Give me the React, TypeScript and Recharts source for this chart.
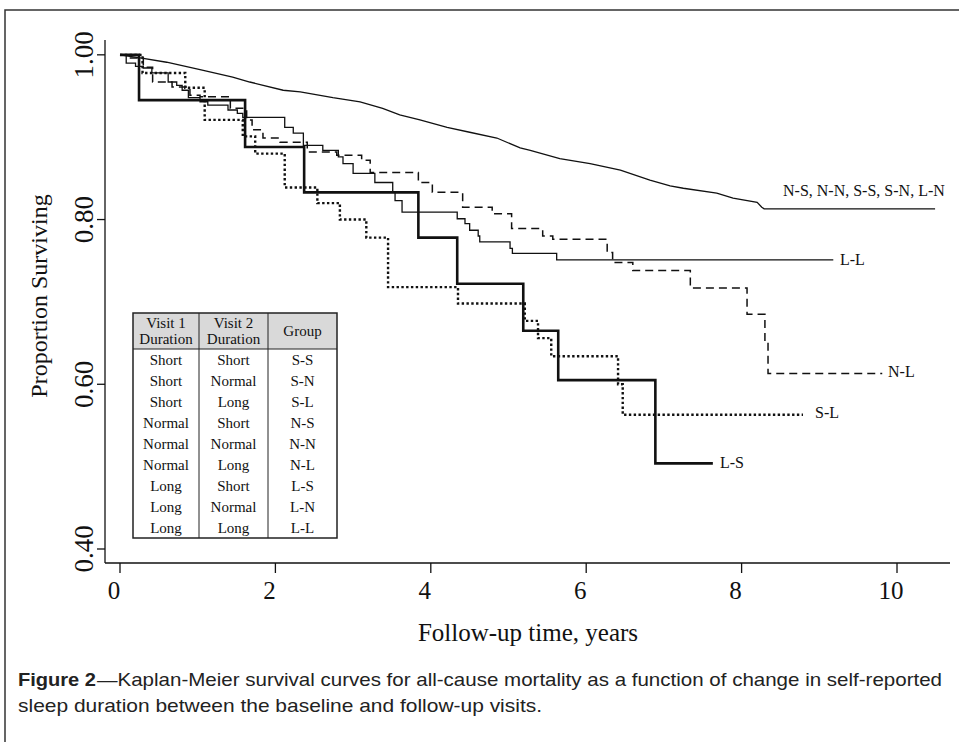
import { LineChart, Line, XAxis, YAxis } from 'recharts';

const serif = '"Liberation Serif", "Times New Roman", serif';
const narrow = '"Liberation Sans Narrow", "Arial Narrow", "Liberation Sans", Arial, sans-serif';

const xTicks = [0, 2, 4, 6, 8, 10];
const yTicks = [0.4, 0.6, 0.8, 1.0];

// pooled groups N-S, N-N, S-S, S-N, L-N
const pooled = [
  { t: 0, s: 1.0 }, { t: 0.28, s: 0.996 }, { t: 0.6, s: 0.991 }, { t: 1.03, s: 0.982 },
  { t: 1.45, s: 0.973 }, { t: 1.67, s: 0.967 }, { t: 2.1, s: 0.957 }, { t: 2.32, s: 0.955 },
  { t: 2.74, s: 0.948 }, { t: 3.09, s: 0.943 }, { t: 3.38, s: 0.935 }, { t: 3.6, s: 0.927 },
  { t: 3.86, s: 0.921 }, { t: 4.21, s: 0.912 }, { t: 4.5, s: 0.906 }, { t: 4.85, s: 0.899 },
  { t: 5.15, s: 0.887 }, { t: 5.28, s: 0.884 }, { t: 5.66, s: 0.874 }, { t: 6.05, s: 0.868 },
  { t: 6.44, s: 0.86 }, { t: 6.82, s: 0.848 }, { t: 7.08, s: 0.841 }, { t: 7.25, s: 0.838 },
  { t: 7.68, s: 0.832 }, { t: 7.89, s: 0.826 }, { t: 8.2, s: 0.821 }, { t: 8.26, s: 0.815 },
  { t: 8.29, s: 0.813 }, { t: 10.49, s: 0.813 },
];

const groupLL = [
  { t: 0, s: 1.0 }, { t: 0.08, s: 0.99 }, { t: 0.2, s: 0.986 }, { t: 0.3, s: 0.984 },
  { t: 0.41, s: 0.978 }, { t: 0.62, s: 0.967 }, { t: 0.73, s: 0.963 }, { t: 0.8, s: 0.957 },
  { t: 0.88, s: 0.948 }, { t: 1.03, s: 0.943 }, { t: 1.13, s: 0.939 }, { t: 1.39, s: 0.933 },
  { t: 1.51, s: 0.929 }, { t: 1.58, s: 0.924 }, { t: 2.12, s: 0.912 }, { t: 2.23, s: 0.905 },
  { t: 2.36, s: 0.89 }, { t: 2.61, s: 0.884 }, { t: 2.81, s: 0.876 }, { t: 2.87, s: 0.868 },
  { t: 3.0, s: 0.856 }, { t: 3.28, s: 0.845 }, { t: 3.51, s: 0.833 }, { t: 3.54, s: 0.823 },
  { t: 3.63, s: 0.809 }, { t: 4.34, s: 0.801 }, { t: 4.44, s: 0.795 }, { t: 4.5, s: 0.787 },
  { t: 4.61, s: 0.78 }, { t: 4.63, s: 0.773 }, { t: 5.02, s: 0.765 }, { t: 5.05, s: 0.759 },
  { t: 5.62, s: 0.751 }, { t: 9.18, s: 0.751 },
];

const groupNL = [
  { t: 0, s: 1.0 }, { t: 0.1, s: 0.996 }, { t: 0.3, s: 0.985 }, { t: 0.42, s: 0.967 },
  { t: 0.67, s: 0.961 }, { t: 0.9, s: 0.951 }, { t: 1.03, s: 0.949 }, { t: 1.42, s: 0.935 },
  { t: 1.63, s: 0.921 }, { t: 1.7, s: 0.909 }, { t: 1.84, s: 0.899 }, { t: 2.06, s: 0.894 },
  { t: 2.41, s: 0.882 }, { t: 2.79, s: 0.878 }, { t: 3.11, s: 0.872 }, { t: 3.22, s: 0.857 },
  { t: 3.84, s: 0.845 }, { t: 4.02, s: 0.833 }, { t: 4.41, s: 0.815 }, { t: 4.79, s: 0.807 },
  { t: 5.04, s: 0.789 }, { t: 5.44, s: 0.78 }, { t: 5.57, s: 0.776 }, { t: 6.27, s: 0.76 },
  { t: 6.34, s: 0.748 }, { t: 6.6, s: 0.738 }, { t: 7.34, s: 0.717 }, { t: 8.07, s: 0.685 },
  { t: 8.3, s: 0.652 }, { t: 8.34, s: 0.613 }, { t: 9.81, s: 0.613 },
];

const groupSL = [
  { t: 0, s: 1.0 }, { t: 0.29, s: 0.978 }, { t: 0.84, s: 0.96 }, { t: 1.09, s: 0.921 },
  { t: 1.58, s: 0.901 }, { t: 1.74, s: 0.88 }, { t: 2.12, s: 0.839 }, { t: 2.54, s: 0.82 },
  { t: 2.83, s: 0.8 }, { t: 3.17, s: 0.778 }, { t: 3.45, s: 0.718 }, { t: 4.35, s: 0.698 },
  { t: 5.21, s: 0.677 }, { t: 5.38, s: 0.656 }, { t: 5.55, s: 0.634 }, { t: 6.41, s: 0.6 },
  { t: 6.47, s: 0.563 }, { t: 8.79, s: 0.563 },
];

const groupLS = [
  { t: 0, s: 1.0 }, { t: 0.245, s: 0.945 }, { t: 1.61, s: 0.888 }, { t: 2.37, s: 0.833 },
  { t: 3.84, s: 0.778 }, { t: 4.34, s: 0.722 }, { t: 5.19, s: 0.665 }, { t: 5.64, s: 0.605 },
  { t: 6.89, s: 0.504 }, { t: 7.63, s: 0.504 },
];

const visit1 = ['Short', 'Short', 'Short', 'Normal', 'Normal', 'Normal', 'Long', 'Long', 'Long'];
const visit2 = ['Short', 'Normal', 'Long', 'Short', 'Normal', 'Long', 'Short', 'Normal', 'Long'];
const groups = ['S-S', 'S-N', 'S-L', 'N-S', 'N-N', 'N-L', 'L-S', 'L-N', 'L-L'];

const ink = '#111';

function XTick(props: any) {
  const { x, y, payload } = props;
  return (
    <text x={x - 6} y={y + 24} textAnchor="middle" fontFamily={serif} fontSize={25} fill={ink}>
      {payload.value}
    </text>
  );
}

function YTick(props: any) {
  const { x, y, payload } = props;
  return (
    <text
      transform={`translate(${x - 2}, ${y}) rotate(-90)`}
      textAnchor="middle"
      fontFamily={serif}
      fontSize={27}
      fill={ink}
    >
      {payload.value.toFixed(2)}
    </text>
  );
}

function Table() {
  const left = 133;
  const top = 313;
  const cols = [133, 199, 268, 337];
  const headH = 36;
  const rowH = 21;
  const bottom = top + headH + rowH * groups.length;
  const cx = [166, 233.5, 302.5];
  return (
    <g fontFamily={serif} fontSize={15} fill={ink}>
      <rect x={left} y={top} width={cols[3] - left} height={headH} fill="#d9d9d9" />
      <rect x={left} y={top} width={cols[3] - left} height={bottom - top} fill="none" stroke="#222" strokeWidth={1.5} />
      <line x1={left} x2={cols[3]} y1={top + headH} y2={top + headH} stroke="#222" strokeWidth={1} />
      <line x1={cols[1]} x2={cols[1]} y1={top} y2={bottom} stroke="#222" strokeWidth={1} />
      <line x1={cols[2]} x2={cols[2]} y1={top} y2={bottom} stroke="#222" strokeWidth={1} />
      <text x={cx[0]} y={top + 15} textAnchor="middle">Visit 1</text>
      <text x={cx[0]} y={top + 31} textAnchor="middle">Duration</text>
      <text x={cx[1]} y={top + 15} textAnchor="middle">Visit 2</text>
      <text x={cx[1]} y={top + 31} textAnchor="middle">Duration</text>
      <text x={cx[2]} y={top + 23} textAnchor="middle">Group</text>
      {groups.map((g, i) => {
        const by = top + headH + rowH * i + 15.5;
        return (
          <g key={g}>
            <text x={cx[0]} y={by} textAnchor="middle">{visit1[i]}</text>
            <text x={cx[1]} y={by} textAnchor="middle">{visit2[i]}</text>
            <text x={cx[2]} y={by} textAnchor="middle">{g}</text>
          </g>
        );
      })}
    </g>
  );
}

export default function App() {
  return (
    <div style={{ position: 'absolute', left: 0, top: 0, width: 959, height: 742, background: '#fff' }}>
      <LineChart width={959} height={742} margin={{ top: 40, right: 9, bottom: 0, left: 0 }}>
        <XAxis
          dataKey="t"
          type="number"
          domain={[-0.193, 10.682]}
          ticks={xTicks}
          allowDataOverflow
          height={179}
          tickSize={10}
          axisLine={{ stroke: ink, strokeWidth: 1.3 }}
          tickLine={{ stroke: ink, strokeWidth: 1.3 }}
          tick={<XTick />}
        />
        <YAxis
          type="number"
          domain={[0.383, 1.018]}
          ticks={yTicks}
          allowDataOverflow
          width={105}
          tickSize={8}
          axisLine={{ stroke: ink, strokeWidth: 1.3 }}
          tickLine={{ stroke: ink, strokeWidth: 1.3 }}
          tick={<YTick />}
        />
        <Line data={pooled} dataKey="s" type="linear" stroke={ink} strokeWidth={1.3} dot={false} isAnimationActive={false} />
        <Line data={groupLL} dataKey="s" type="stepAfter" stroke={ink} strokeWidth={1.3} dot={false} isAnimationActive={false} />
        <Line data={groupNL} dataKey="s" type="stepAfter" stroke={ink} strokeWidth={1.5} strokeDasharray="8 5" dot={false} isAnimationActive={false} />
        <Line data={groupSL} dataKey="s" type="stepAfter" stroke={ink} strokeWidth={2.4} strokeDasharray="2.4 2.4" dot={false} isAnimationActive={false} />
        <Line data={groupLS} dataKey="s" type="stepAfter" stroke={ink} strokeWidth={2.6} dot={false} isAnimationActive={false} />
      </LineChart>
      <svg width={959} height={742} style={{ position: 'absolute', left: 0, top: 0, pointerEvents: 'none' }}>
        <path d="M5 742 L5 10 L959 10" fill="none" stroke="#333" strokeWidth={1.5} />
        <Table />
        <g fontFamily={serif} fontSize={16} fill={ink}>
          <text x={783} y={196}>N-S, N-N, S-S, S-N, L-N</text>
          <text x={840} y={265}>L-L</text>
          <text x={888} y={377}>N-L</text>
          <text x={815} y={418}>S-L</text>
          <text x={720} y={468}>L-S</text>
        </g>
        <text transform="translate(47, 296) rotate(-90)" textAnchor="middle" fontFamily={serif} fontSize={24} fill={ink}>
          Proportion Surviving
        </text>
        <text x={528} y={641} textAnchor="middle" fontFamily={serif} fontSize={25} fill={ink}>
          Follow-up time, years
        </text>
        <g fontFamily={narrow} fontSize={19} fill="#222">
          <text x={18} y={686} fontWeight="bold" textLength={78} lengthAdjust="spacingAndGlyphs">Figure 2</text>
          <text x={97} y={686} textLength={845} lengthAdjust="spacingAndGlyphs">
            —Kaplan-Meier survival curves for all-cause mortality as a function of change in self-reported
          </text>
          <text x={18} y={712} textLength={524} lengthAdjust="spacingAndGlyphs">
            sleep duration between the baseline and follow-up visits.
          </text>
        </g>
      </svg>
    </div>
  );
}
